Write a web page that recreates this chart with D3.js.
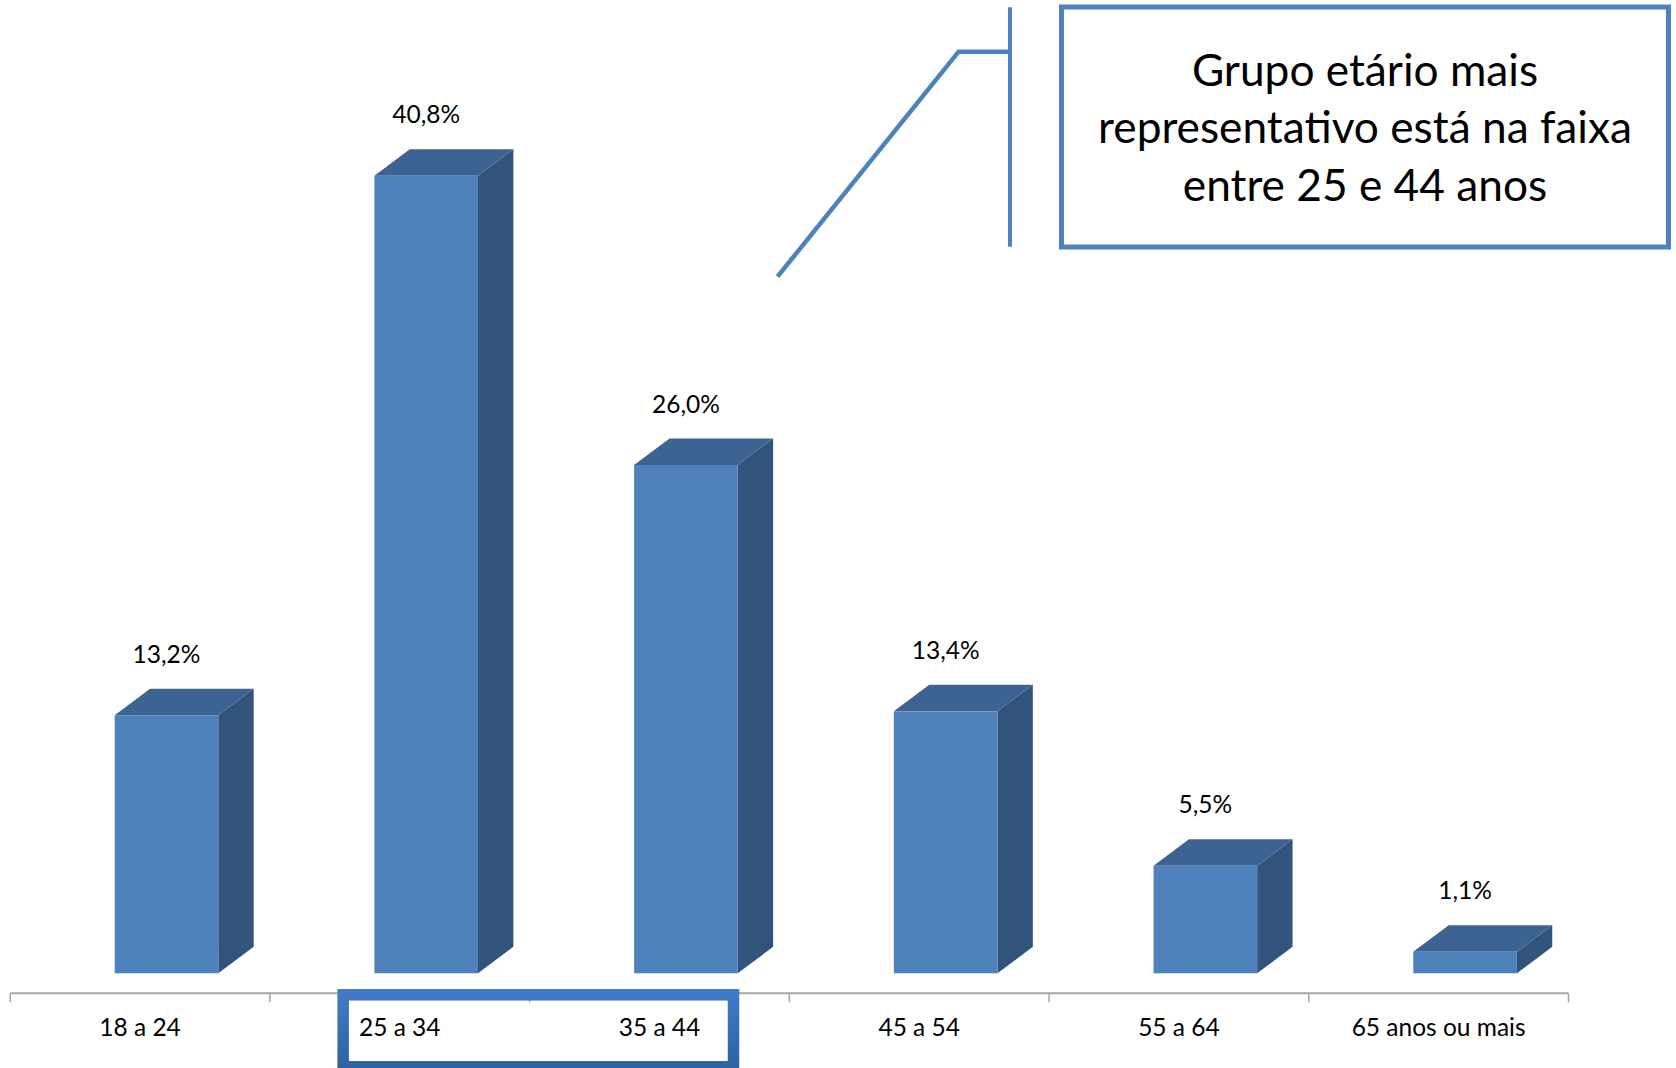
<!DOCTYPE html>
<html>
<head>
<meta charset="utf-8">
<script src="https://cdn.jsdelivr.net/npm/d3@7"></script>
<style>
  html, body { margin: 0; padding: 0; background: #ffffff; }
  svg { display: block; }
  text { font-family: Lato, "Open Sans", sans-serif; fill: #000; }
</style>
</head>
<body>
<svg id="chart" width="1676" height="1068"></svg>
<script>
// ---- data ----
const categories = ["18 a 24", "25 a 34", "35 a 44", "45 a 54", "55 a 64", "65 anos ou mais"];
const values = [13.2, 40.8, 26.0, 13.4, 5.5, 1.1];
const valueLabels = ["13,2%", "40,8%", "26,0%", "13,4%", "5,5%", "1,1%"];
const highlighted = ["25 a 34", "35 a 44"];
const calloutLines = ["Grupo etário mais", "representativo está na faixa", "entre 25 e 44 anos"];

// ---- layout ----
const W = 1676, H = 1068;
const svg = d3.select("#chart");
const axisY = 993.3;
const baseY = 973.3;

const x = d3.scaleBand().domain(categories).range([10.2, 1568.5]).paddingInner(0).paddingOuter(0);
const y = d3.scaleLinear().domain([0, 45]).range([baseY, baseY - 45 * 19.55]);
const bw = x.bandwidth();
const frontOff = bw * 0.4023, frontW = bw * 0.3989;
const dx = 35.4, dy = 26.5;

const colFront = "#4f81bd", colTop = "#3c6391", colSide = "#32547c";

// axis
const axisG = svg.append("g");
axisG.append("line").attr("x1", x.range()[0]).attr("x2", x.range()[1])
  .attr("y1", axisY).attr("y2", axisY).attr("stroke", "#a6a6a6").attr("stroke-width", 2);
const tickPos = categories.map(c => x(c)).concat([x.range()[1]]);
axisG.selectAll("line.tick").data(tickPos).enter().append("line")
  .attr("class", "tick").attr("x1", d => d).attr("x2", d => d)
  .attr("y1", axisY).attr("y2", axisY + 9).attr("stroke", "#a6a6a6").attr("stroke-width", 1.5);

// bars
const bars = svg.append("g").selectAll("g").data(categories).enter().append("g");
bars.each(function(c, i) {
  const g = d3.select(this);
  const x0 = x(c) + frontOff, x1 = x0 + frontW;
  const yt = y(values[i]), yb = y(0);
  g.append("polygon").attr("fill", colSide)
    .attr("points", [[x1, yt], [x1 + dx, yt - dy], [x1 + dx, yb - dy], [x1, yb]].join(" "));
  g.append("polygon").attr("fill", colTop)
    .attr("points", [[x0, yt], [x0 + dx, yt - dy], [x1 + dx, yt - dy], [x1, yt]].join(" "));
  g.append("rect").attr("fill", colFront)
    .attr("x", x0).attr("y", yt).attr("width", frontW).attr("height", yb - yt);
  g.append("text").attr("x", (x0 + x1) / 2).attr("y", yt - dy - 26)
    .attr("text-anchor", "middle").attr("font-size", 24.5).text(valueLabels[i]);
});

// highlight box
const hx0 = x(highlighted[0]) + bw * 0.282;
const hx1 = x(highlighted[1]) + bw - bw * 0.215;
const defs = svg.append("defs");
const grad = defs.append("linearGradient").attr("id", "hgrad").attr("x1", 0).attr("y1", 0).attr("x2", 0).attr("y2", 1);
grad.append("stop").attr("offset", "0%").attr("stop-color", "#3f7bc6");
grad.append("stop").attr("offset", "100%").attr("stop-color", "#2f62a3");
svg.append("rect").attr("x", hx0).attr("y", 994.8).attr("width", hx1 - hx0).attr("height", 72)
  .attr("fill", "none").attr("stroke", "url(#hgrad)").attr("stroke-width", 11.5);

// category labels
svg.append("g").selectAll("text").data(categories).enter().append("text")
  .attr("x", c => x(c) + bw / 2).attr("y", 1036)
  .attr("text-anchor", "middle").attr("font-size", 24.5).text(c => c);

// callout
const boxL = 1061.5, boxR = 1668.5, boxT = 7, boxB = 247;
svg.append("rect").attr("x", boxL).attr("y", boxT).attr("width", boxR - boxL).attr("height", boxB - boxT)
  .attr("fill", "#fff").attr("stroke", colFront).attr("stroke-width", 5);
svg.append("path")
  .attr("d", d3.line()([[1010, 7.3], [1010, 246.7]]))
  .attr("stroke", colFront).attr("stroke-width", 4).attr("fill", "none");
svg.append("path")
  .attr("d", d3.line()([[777.5, 276.7], [958.6, 51.7], [1010, 51.7]]))
  .attr("stroke", colFront).attr("stroke-width", 4.5).attr("fill", "none");

const cx = (boxL + boxR) / 2;
const ct = svg.append("g");
const baselines = [86, 143, 201];
const tl = ct.selectAll("text").data(calloutLines).enter().append("text")
  .attr("x", cx).attr("y", (d, i) => baselines[i]).attr("text-anchor", "middle")
  .attr("font-size", 36).text(d => d);
// fit widest line to the reference width
const widest = d3.max(tl.nodes(), n => n.getComputedTextLength());
const fs = 36 * 534 / widest;
tl.attr("font-size", fs);
</script>
</body>
</html>
